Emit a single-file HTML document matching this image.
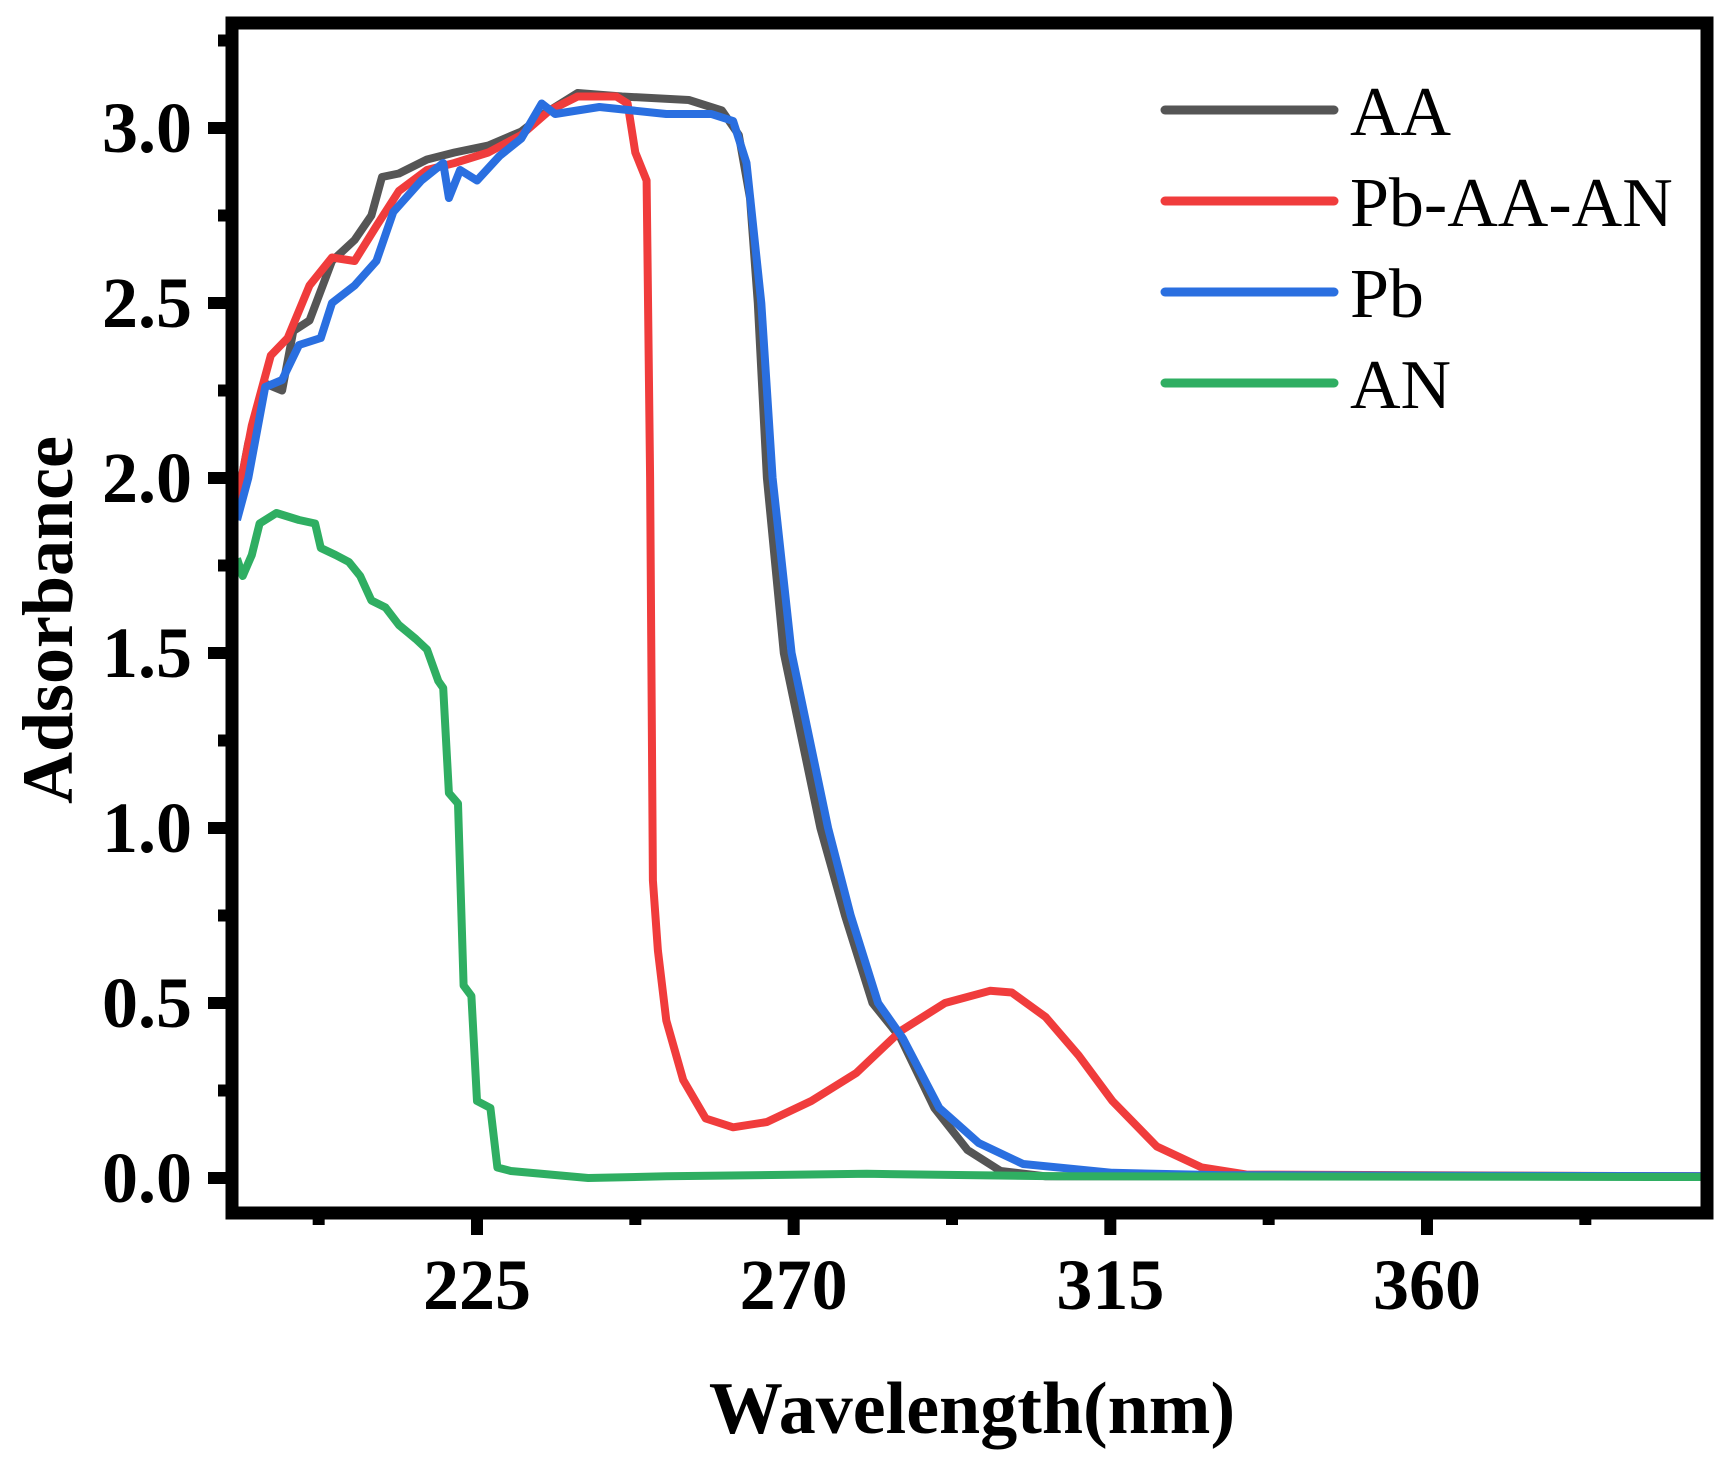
<!DOCTYPE html>
<html><head><meta charset="utf-8"><style>html,body{margin:0;padding:0;background:#fff}svg{display:block}</style></head>
<body>
<svg id="chart" width="1734" height="1458" viewBox="0 0 1734 1458" xmlns="http://www.w3.org/2000/svg">
<g id="series"></g>
<g id="axes"></g>
<g id="legend"></g>
<text x="972" y="1433" text-anchor="middle" font-family="Liberation Serif, serif" font-weight="bold" font-size="74">Wavelength(nm)</text>
<text transform="translate(72,620) rotate(-90)" text-anchor="middle" font-family="Liberation Serif, serif" font-weight="bold" font-size="72">Adsorbance</text>
</svg>
<script>
const xTicks = [225, 270, 315, 360];
const xMinorTicks = [202.5, 247.5, 292.5, 337.5, 382.5];
const yTicks = [0, 0.5, 1.0, 1.5, 2.0, 2.5, 3.0];
const yTickLabels = ["0.0", "0.5", "1.0", "1.5", "2.0", "2.5", "3.0"];
const yMinorTicks = [0.25, 0.75, 1.25, 1.75, 2.25, 2.75, 3.25];
const seriesNames = ["AA", "Pb-AA-AN", "Pb", "AN"];
const seriesColors = ["#555555", "#f03c3c", "#2a6fe0", "#2fae62"];

const aaX = [190.9,192.5,194.9,197.3,198.9,201.2,204.4,207.6,210.0,211.5,213.9,217.9,221.8,226.6,231.3,234.5,239.3,245.6,255.1,259.8,262.2,263.8,264.9,266.2,268.6,273.8,277.3,281.2,285.2,290.0,294.7,299.4,305.8,400];
const aaY = [1.93,2.10,2.27,2.25,2.42,2.45,2.62,2.68,2.75,2.86,2.87,2.91,2.93,2.95,2.99,3.04,3.10,3.09,3.08,3.05,2.98,2.80,2.50,2.00,1.50,1.00,0.75,0.50,0.40,0.20,0.08,0.02,0.005,0.005];

const pbaaX = [190.9,193.0,195.7,198.1,201.2,204.4,207.6,210.7,213.9,217.9,221.8,226.6,231.3,235.3,239.3,244.8,246.4,247.5,249.1,249.6,250.0,250.7,251.9,254.3,257.5,261.4,266.2,272.5,278.9,285.2,291.5,297.9,301.0,305.8,310.5,315.3,321.6,328.0,334.3,400];
const pbaaY = [1.93,2.15,2.35,2.40,2.55,2.63,2.62,2.72,2.82,2.88,2.90,2.93,2.98,3.05,3.09,3.09,3.07,2.93,2.85,2.00,0.85,0.65,0.45,0.28,0.17,0.145,0.16,0.22,0.30,0.42,0.50,0.535,0.53,0.46,0.35,0.22,0.09,0.03,0.01,0.005];

const pbX = [190.9,192.5,194.9,197.3,199.7,202.8,204.4,207.6,210.7,213.1,217.1,220.2,221.0,222.6,225.0,228.2,231.3,234.2,236.1,242.4,251.9,258.3,261.4,263.3,265.4,267.0,269.7,274.9,278.1,282.0,285.5,290.7,296.3,302.6,315.3,331.1,400];
const pbY = [1.88,2.00,2.26,2.28,2.38,2.40,2.50,2.55,2.62,2.76,2.85,2.90,2.80,2.88,2.85,2.92,2.97,3.07,3.04,3.06,3.04,3.04,3.02,2.90,2.50,2.00,1.50,1.00,0.75,0.50,0.40,0.20,0.10,0.04,0.015,0.008,0.005];

const anX = [190.9,191.7,193.0,194.1,196.5,199.7,202.0,202.8,204.9,206.8,208.4,210.0,212.0,213.9,216.3,217.9,219.5,220.2,221.0,222.3,223.1,224.2,225.0,226.9,227.9,229.8,240.8,251.9,280.4,307.4,400];
const anY = [1.77,1.72,1.78,1.87,1.90,1.88,1.87,1.80,1.78,1.76,1.72,1.65,1.63,1.58,1.54,1.51,1.42,1.40,1.10,1.07,0.55,0.52,0.22,0.20,0.03,0.02,0.00,0.005,0.012,0.005,0.003];

const X0 = 477, XPX = 7.037;
const Y0 = 1178, YPX = 350;
function xs(v){ return X0 + (v - 225) * XPX; }
function ys(v){ return Y0 - v * YPX; }
const NS = "http://www.w3.org/2000/svg";
const L = 232, R = 1707, T = 23, B = 1213;

const sg = document.getElementById('series');
const allX = [aaX, pbaaX, pbX, anX];
const allY = [aaY, pbaaY, pbY, anY];
const keys = ["aa", "pb-aa-an", "pb", "an"];
for (let s = 0; s < 4; s++) {
  const p = document.createElementNS(NS, 'path');
  let d = "";
  for (let i = 0; i < allX[s].length; i++) {
    d += (i ? "L" : "M") + xs(allX[s][i]).toFixed(1) + "," + ys(allY[s][i]).toFixed(1);
  }
  p.setAttribute('d', d);
  p.setAttribute('fill', 'none');
  p.setAttribute('stroke', seriesColors[s]);
  p.setAttribute('stroke-width', '8');
  p.setAttribute('stroke-linejoin', 'round');
  
  
  sg.appendChild(p);
}

const ag = document.getElementById('axes');
const frame = document.createElementNS(NS, 'rect');
frame.setAttribute('x', L); frame.setAttribute('y', T);
frame.setAttribute('width', R - L); frame.setAttribute('height', B - T);
frame.setAttribute('fill', 'none'); frame.setAttribute('stroke', '#000'); frame.setAttribute('stroke-width', '13');


ag.appendChild(frame);

function line(x1,y1,x2,y2,w,name){
  const l = document.createElementNS(NS, 'line');
  l.setAttribute('x1',x1); l.setAttribute('y1',y1); l.setAttribute('x2',x2); l.setAttribute('y2',y2);
  l.setAttribute('stroke','#000'); l.setAttribute('stroke-width',w);
  
  
  ag.appendChild(l);
}
function text(x,y,str,anchor,name){
  const t = document.createElementNS(NS, 'text');
  t.setAttribute('x',x); t.setAttribute('y',y); t.setAttribute('text-anchor',anchor);
  t.setAttribute('font-family','Liberation Serif, serif'); t.setAttribute('font-weight','bold'); t.setAttribute('font-size','72');
  t.textContent = str;
  
  
  ag.appendChild(t);
}
xTicks.forEach(v => { line(xs(v), B, xs(v), B + 22, 12, 'x-tick'); text(xs(v), 1309, String(v), 'middle', 'x-tick-label'); });
xMinorTicks.forEach(v => { if (xs(v) < R - 10) line(xs(v), B, xs(v), B + 12, 12, 'x-minor-tick'); });
yTicks.forEach((v,i) => { line(L - 24, ys(v), L, ys(v), 12, 'y-tick'); text(192, ys(v) + 24, yTickLabels[i], 'end', 'y-tick-label'); });
yMinorTicks.forEach(v => { line(L - 14, ys(v), L, ys(v), 12, 'y-minor-tick'); });

const lg = document.getElementById('legend');
const legendY = [110, 201, 292, 383];
for (let s = 0; s < 4; s++) {
  const l = document.createElementNS(NS, 'line');
  l.setAttribute('x1', 1165); l.setAttribute('x2', 1334);
  l.setAttribute('y1', legendY[s]); l.setAttribute('y2', legendY[s]);
  l.setAttribute('stroke', seriesColors[s]); l.setAttribute('stroke-width', '9'); l.setAttribute('stroke-linecap', 'round');
  
  
  lg.appendChild(l);
  const t = document.createElementNS(NS, 'text');
  t.setAttribute('x', 1350); t.setAttribute('y', legendY[s] + 25);
  t.setAttribute('font-family', 'Liberation Serif, serif'); t.setAttribute('font-size', '70');
  t.textContent = seriesNames[s];
  
  
  lg.appendChild(t);
}
</script>
</body></html>
